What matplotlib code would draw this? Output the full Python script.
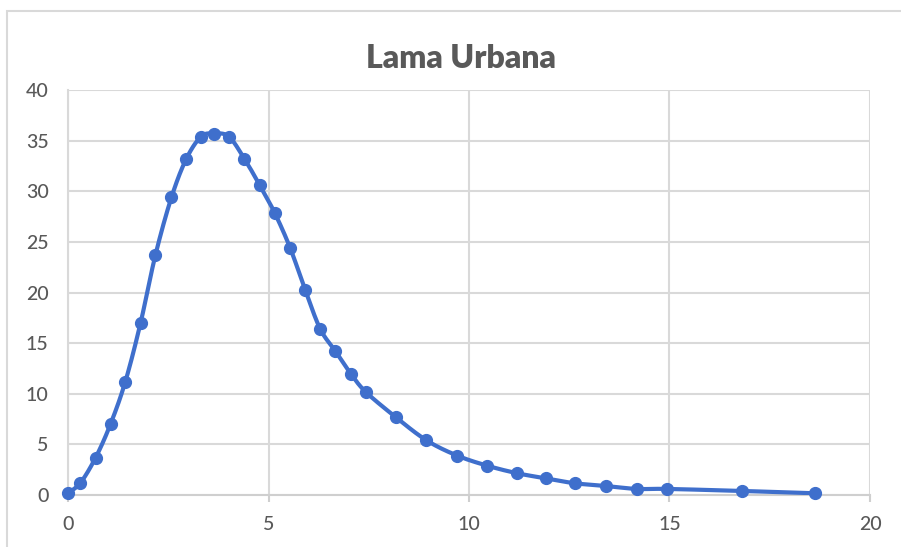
import numpy as np
import matplotlib.pyplot as plt
from matplotlib.patches import Rectangle

# Datos de la curva (tiempo, concentracion)
tiempo = [0.0, 0.31, 0.69, 1.06, 1.43, 1.81, 2.18, 2.58, 2.95, 3.32, 3.64,
          4.01, 4.40, 4.78, 5.15, 5.54, 5.92, 6.29, 6.67, 7.05, 7.42, 8.17,
          8.94, 9.70, 10.45, 11.20, 11.91, 12.64, 13.41, 14.18, 14.93, 16.80,
          18.63]
valores = [0.2, 1.2, 3.7, 7.0, 11.2, 17.0, 23.7, 29.4, 33.2, 35.4, 35.7,
           35.4, 33.2, 30.6, 27.9, 24.4, 20.2, 16.4, 14.2, 12.0, 10.2, 7.7,
           5.4, 3.9, 2.9, 2.15, 1.65, 1.16, 0.89, 0.6, 0.6, 0.4, 0.17]

titulo = "Lama Urbana"
xticks = [0, 5, 10, 15, 20]
yticks = [0, 5, 10, 15, 20, 25, 30, 35, 40]

azul = '#3f6fcc'
gris_texto = '#595959'
gris_linea = '#d9d9d9'


# Linea suavizada tipo Catmull-Rom entre los puntos
def suavizar(x, y, n=20):
    p = np.column_stack([x, y])
    p = np.vstack([p[0], p, p[-1]])
    xs, ys = [], []
    for i in range(1, len(p) - 2):
        p0, p1, p2, p3 = p[i - 1], p[i], p[i + 1], p[i + 2]
        t = np.linspace(0, 1, n, endpoint=False)[:, None]
        c = 0.5 * ((2 * p1) + (-p0 + p2) * t
                   + (2 * p0 - 5 * p1 + 4 * p2 - p3) * t ** 2
                   + (-p0 + 3 * p1 - 3 * p2 + p3) * t ** 3)
        xs.extend(c[:, 0])
        ys.extend(c[:, 1])
    xs.append(x[-1])
    ys.append(y[-1])
    return xs, ys


plt.rcParams['font.family'] = ['Lato', 'DejaVu Sans']

fig = plt.figure(figsize=(9.01, 5.47), dpi=100)
# marco exterior del grafico
fig.patches.append(Rectangle((7 / 901, -0.1), 1.1, 1 - 11 / 547 + 0.1,
                             transform=fig.transFigure, fill=False,
                             edgecolor='#d9d9d9', linewidth=1.5))

ax = fig.add_axes([68 / 901, 1 - 495 / 547, (870 - 68) / 901, (495 - 90) / 547])

sx, sy = suavizar(tiempo, valores)
ax.plot(sx, sy, color=azul, linewidth=3.0, zorder=3, solid_capstyle='round')
ax.plot(tiempo, valores, 'o', color=azul, markersize=8.5, zorder=4,
        clip_on=False)

ax.set_xlim(0, 20)
ax.set_ylim(0, 40)
ax.set_xticks(xticks)
ax.set_yticks(yticks)
ax.grid(True, color=gris_linea, linewidth=1.5)
ax.set_axisbelow(True)

for lado in ['top', 'right']:
    ax.spines[lado].set_visible(False)
ax.spines['left'].set_color(gris_linea)
ax.spines['left'].set_linewidth(1.5)
ax.spines['bottom'].set_color('#cfcfcf')
ax.spines['bottom'].set_linewidth(1.5)

ax.tick_params(axis='x', colors='#cfcfcf', width=1.5, length=5,
               labelcolor=gris_texto, labelsize=14, pad=10)
ax.tick_params(axis='y', length=0, labelcolor=gris_texto, labelsize=14,
               pad=14)
for lbl in ax.get_xticklabels() + ax.get_yticklabels():
    lbl.set_fontweight('medium')

fig.text(461 / 901, 1 - 58 / 547, titulo, ha='center', va='center',
         fontsize=23, fontweight='heavy', color=gris_texto)

fig.savefig('out.png', dpi=100)
